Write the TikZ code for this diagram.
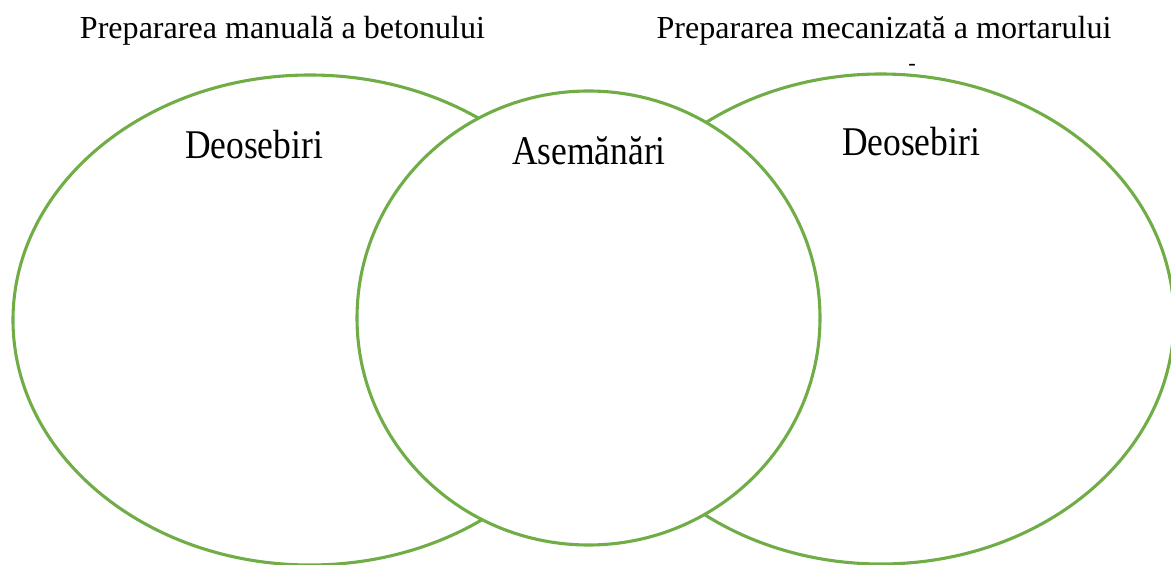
\documentclass[tikz,border=0pt]{standalone}
\usepackage{fontspec}
\setmainfont{Liberation Serif}
\definecolor{vgreen}{RGB}{112,173,71}
\tikzstyle{ring}=[draw=vgreen, line width=2.2pt]
\tikzstyle{ttl}=[anchor=base, inner sep=0, font=\fontsize{22.8}{26}\selectfont]
\tikzstyle{lbl}=[anchor=base, inner sep=0, xscale=.87, font=\fontsize{29}{32}\selectfont]

\begin{document}
\begin{tikzpicture}[x=.025cm, y=-.025cm]
\useasboundingbox (0,0) rectangle (1171,565);
\draw[ring] (310,320) ellipse [x radius=297, y radius=245];
\draw[ring] (881,319) ellipse [x radius=293, y radius=245];
\draw[ring, fill=white] (588.5,318) ellipse [x radius=231.5, y radius=227];
\node at (282.5,39)[ttl](t1){Prepararea manuală a betonului};
\node at (884,39)[ttl](t2){Prepararea mecanizată a mortarului};
\node at (912,71)[anchor=base, inner sep=0, font=\fontsize{16}{18}\selectfont](dash){-};
\node at (254,158)[lbl](d1){Deosebiri};
\node at (589,164)[lbl](as){Asemănări};
\node at (911,155)[lbl](d2){Deosebiri};
\end{tikzpicture}
\end{document}
